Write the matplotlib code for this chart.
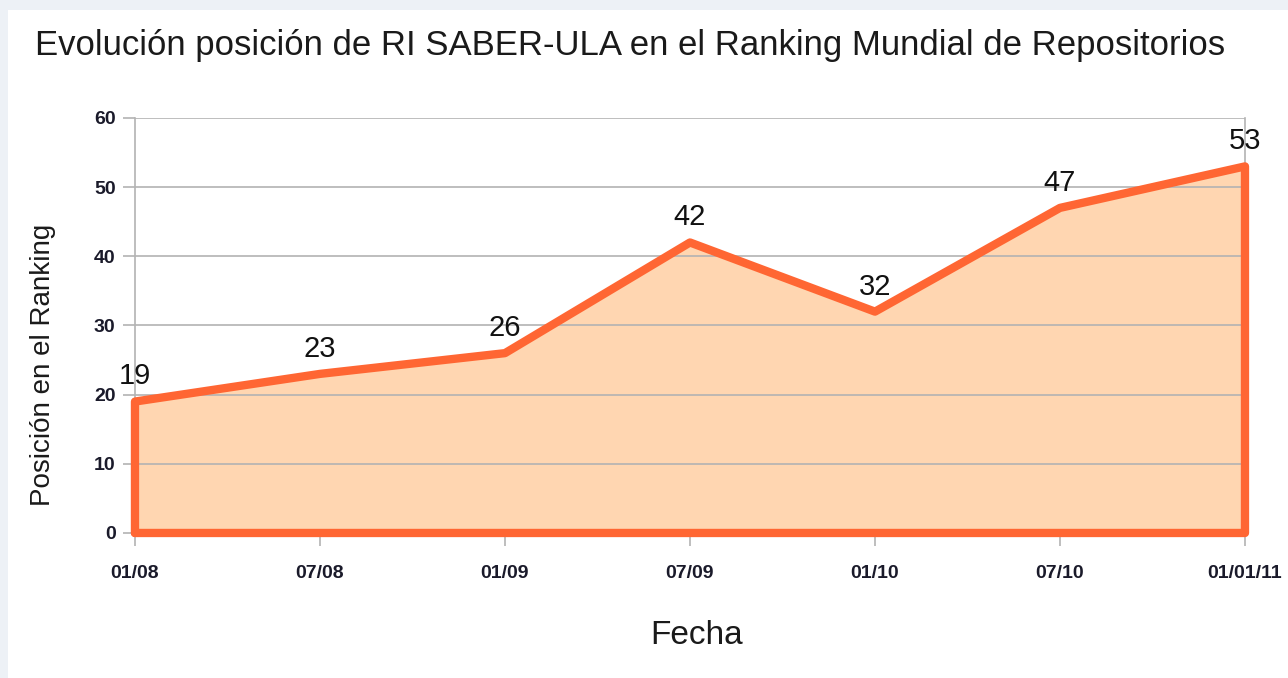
import matplotlib

matplotlib.use("Agg")
import matplotlib.pyplot as plt
from matplotlib.patches import Rectangle

# Ranking position of RI SABER-ULA per date
fechas = ["01/08", "07/08", "01/09", "07/09", "01/10", "07/10", "01/01/11"]
posicion = [19, 23, 26, 42, 32, 47, 53]
y_ticks = [0, 10, 20, 30, 40, 50, 60]

LINE = "#ff6633"
FILL = "#ffd6b1"
GRID = "#b3b3b3"

plt.rcParams["font.family"] = ["Liberation Sans", "DejaVu Sans"]

fig = plt.figure(figsize=(12.88, 6.78), dpi=100)
fig.patch.set_facecolor("#edf1f6")
fig.add_artist(Rectangle((0.006, 0.0), 0.994, 0.985, transform=fig.transFigure,
                         facecolor="white", edgecolor="none", zorder=0))
ax = fig.add_axes([0.1048, 0.2139, 0.8618, 0.6121])
ax.set_facecolor("none")

x = list(range(len(fechas)))
ax.fill_between(x, 0, posicion, color=FILL, zorder=2, lw=0)
# outline of the whole area (top, sides and bottom)
ox = [x[0]] + x + [x[-1], x[0]]
oy = [0] + posicion + [0, 0]
ax.plot(ox, oy, color=LINE, lw=6, solid_joinstyle="round", solid_capstyle="round",
        zorder=4, clip_on=False)

for xi, yi in zip(x, posicion):
    ax.annotate(str(yi), (xi, yi), xytext=(0, 8), textcoords="offset points",
                ha="center", va="bottom", fontsize=21, color="#111111", zorder=5)

ax.set_xlim(0, len(fechas) - 1)
ax.set_ylim(0, 60)
ax.set_yticks(y_ticks)
ax.set_xticks(x)
ax.set_xticklabels(fechas)
ax.yaxis.grid(True, color=GRID, lw=1.2, zorder=3)
ax.set_axisbelow(False)
for side in ("top", "bottom"):
    ax.spines[side].set_visible(False)
for side in ("left", "right"):
    ax.spines[side].set_color(GRID)
    ax.spines[side].set_linewidth(1.2)
    ax.spines[side].set_zorder(1)
ax.tick_params(axis="both", direction="out", length=9, width=1.2, color=GRID,
               labelsize=14, labelcolor="#1a1a2a", pad=5)
ax.tick_params(axis="x", pad=14)
for lbl in ax.get_xticklabels() + ax.get_yticklabels():
    lbl.set_fontweight("bold")

ax.set_xlabel("Fecha", fontsize=24, color="#1a1a1a")
ax.xaxis.set_label_coords(0.506, -0.209)
ax.set_ylabel("Posición en el Ranking", fontsize=20, color="#1a1a1a")
ax.yaxis.set_label_coords(-0.0715, 0.406)
fig.text(0.489, 0.933, "Evolución posición de RI SABER-ULA en el Ranking Mundial de Repositorios",
         ha="center", va="center", fontsize=25, color="#1a1a1a")

fig.savefig("out.png", dpi=100)
